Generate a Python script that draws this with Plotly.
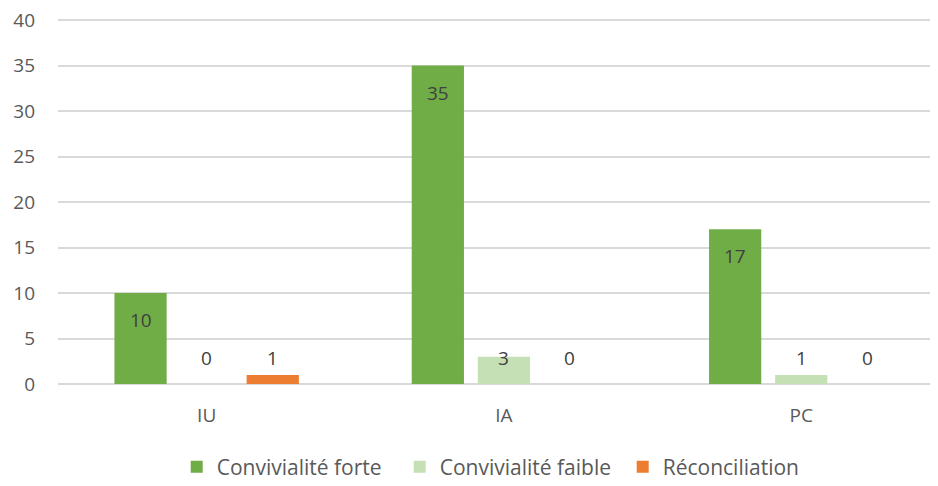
import plotly.graph_objects as go

categories = ["IU", "IA", "PC"]
forte = [10, 35, 17]
faible = [0, 3, 1]
reconciliation = [1, 0, 0]

series = [
    ("Convivialité forte", forte, "#70ad47"),
    ("Convivialité faible", faible, "#c5e0b4"),
    ("Réconciliation", reconciliation, "#ed7d31"),
]

font_family = "Open Sans, Lato, sans-serif"
text_color = "#595959"
fsize = 19

fig = go.Figure()
for name, vals, col in series:
    fig.add_trace(go.Bar(
        x=categories, y=vals, name=name,
        marker=dict(color=col, line=dict(width=0)),
    ))

# data labels (Excel "inside end" style)
slot_px = 66
for i, (name, vals, col) in enumerate(series):
    for cat, v in zip(categories, vals):
        if v >= 5:
            fig.add_annotation(x=cat, y=v, text=str(v), showarrow=False,
                               xshift=(i - 1) * slot_px, yshift=-27,
                               font=dict(size=fsize, color="#404040", family=font_family))
        else:
            fig.add_annotation(x=cat, y=0, text=str(v), showarrow=False,
                               xshift=(i - 1) * slot_px, yshift=26,
                               font=dict(size=fsize, color="#404040", family=font_family))

# page body has an 8px margin, so the figure is a bit smaller than the window
fig.update_layout(
    width=930, height=478,
    margin=dict(l=50, r=0, t=11, b=102, autoexpand=False),
    paper_bgcolor="white", plot_bgcolor="white",
    font=dict(family=font_family, size=fsize, color=text_color),
    barmode="group", bargap=0.333, bargroupgap=0.21,
    showlegend=True,
    legend=dict(orientation="h", x=0.515, xanchor="center", y=-0.228, yanchor="middle",
                font=dict(size=21, color=text_color), itemclick=False,
                entrywidth=178, itemwidth=30),
)
fig.update_xaxes(range=[-0.5, 2.46], showgrid=False, showline=False, ticks="",
                 ticklabelstandoff=18, tickfont=dict(size=fsize, color=text_color))
fig.update_yaxes(range=[0, 40.12], tickvals=[0, 5, 10, 15, 20, 25, 30, 35, 40],
                 showgrid=True, gridcolor="#d9d9d9", gridwidth=1.5,
                 zeroline=True, zerolinecolor="#d9d9d9", zerolinewidth=1.5,
                 showline=False, ticks="", ticklabelstandoff=22,
                 ticklabeloverflow="allow",
                 tickfont=dict(size=fsize, color=text_color))

fig.write_html("out.html")
